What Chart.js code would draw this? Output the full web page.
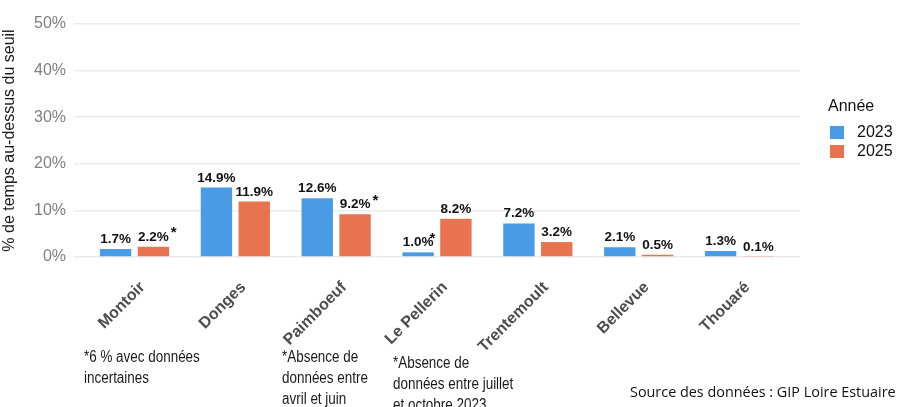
<!DOCTYPE html>
<html lang="fr">
<head>
  <meta charset="UTF-8">
  <title>Temps au-dessus du seuil</title>
  <script src="https://cdn.jsdelivr.net/npm/chart.js"></script>
  <style>
    body {
      margin: 0;
      background: #fff;
    }
    #wrap {
      position: relative;
      width: 905px;
      height: 407px;
      overflow: hidden;
    }
    .note {
      position: absolute;
      font-family: 'Liberation Sans', Arial, sans-serif;
      font-size: 16px;
      line-height: 21px;
      color: #1a1a1a;
      white-space: nowrap;
      transform: scaleX(0.84);
      transform-origin: left top;
    }
    #source {
      position: absolute;
      left: 630px;
      top: 382px;
      font-family: 'Open Sans', sans-serif;
      font-size: 14.4px;
      color: #111;
      white-space: nowrap;
    }
  </style>
</head>
<body>
<div id="wrap">
  <canvas id="chart" width="905" height="407"></canvas>
  <div class="note" style="left:84px; top:346px;">*6 % avec données<br>incertaines</div>
  <div class="note" style="left:282px; top:346px;">*Absence de<br>données entre<br>avril et juin</div>
  <div class="note" style="left:393px; top:352px;">*Absence de<br>données entre juillet<br>et octobre 2023</div>
  <div id="source">Source des données : GIP Loire Estuaire</div>
</div>

<script>
  // data
  const stations = ['Montoir', 'Donges', 'Paimboeuf', 'Le Pellerin', 'Trentemoult', 'Bellevue', 'Thouaré'];
  const years = ['2023', '2025'];
  const values2023 = [1.7, 14.9, 12.6, 1.0, 7.2, 2.1, 1.3];
  const values2025 = [2.2, 11.9, 9.2, 8.2, 3.2, 0.5, 0.1];
  // which bars carry a footnote asterisk
  const star2023 = [false, false, false, true, false, false, false];
  const star2025 = [true, false, true, false, false, false, false];
  const yTicks = [0, 10, 20, 30, 40, 50];

  const colors = ['#4a9be6', '#e8734f'];

  // value labels over each bar, with the asterisks
  const barLabels = {
    id: 'barLabels',
    afterDatasetsDraw(chart) {
      const ctx = chart.ctx;
      const stars = [star2023, star2025];
      ctx.save();
      chart.data.datasets.forEach((ds, di) => {
        const meta = chart.getDatasetMeta(di);
        meta.data.forEach((bar, i) => {
          const txt = ds.data[i].y.toFixed(1) + '%';
          ctx.font = 'bold 13.5px "Liberation Sans", Arial, sans-serif';
          ctx.fillStyle = '#111';
          ctx.textAlign = 'center';
          ctx.textBaseline = 'bottom';
          ctx.fillText(txt, bar.x, bar.y - 3);
          if (stars[di][i]) {
            const w = ctx.measureText(txt).width;
            ctx.font = 'bold 15px "Liberation Sans", Arial, sans-serif';
            ctx.textAlign = 'left';
            const dx = di === 0 ? w / 2 - 4 : w / 2 + 2;
            ctx.fillText('*', bar.x + dx, bar.y - 6);
          }
        });
      });
      ctx.restore();
    }
  };

  // legend on the right, ggplot style
  const sideLegend = {
    id: 'sideLegend',
    afterDraw(chart) {
      const ctx = chart.ctx;
      ctx.save();
      ctx.font = '16px "Liberation Sans", Arial, sans-serif';
      ctx.fillStyle = '#111';
      ctx.textAlign = 'left';
      ctx.textBaseline = 'middle';
      ctx.fillText('Année', 828, 107);
      years.forEach((y, i) => {
        const cy = 132 + i * 19;
        ctx.fillStyle = colors[i];
        ctx.fillRect(830, cy - 6, 14, 13);
        ctx.fillStyle = '#111';
        ctx.fillText(y, 857, cy + 1);
      });
      ctx.restore();
    }
  };

  const datasets = [values2023, values2025].map((vals, k) => ({
    label: years[k],
    data: vals.map((v, i) => ({x: i, y: v})),
    backgroundColor: colors[k],
    borderWidth: 0,
    categoryPercentage: 0.75,
    barPercentage: 0.83
  }));

  new Chart(document.getElementById('chart'), {
    type: 'bar',
    data: {datasets: datasets},
    plugins: [barLabels, sideLegend],
    options: {
      responsive: false,
      animation: false,
      layout: {padding: {top: 24, right: 105, left: 0, bottom: 0}},
      plugins: {
        legend: {display: false},
        tooltip: {enabled: false}
      },
      scales: {
        x: {
          type: 'linear',
          offset: false,
          min: -0.6,
          max: 6.6,
          grid: {display: false, offset: false},
          border: {display: false},
          afterFit(scale) { scale.height = 150; },
          afterBuildTicks(scale) { scale.ticks = stations.map((s, i) => ({value: i})); },
          ticks: {
            autoSkip: false,
            minRotation: 45,
            maxRotation: 45,
            padding: 13,
            labelOffset: 8,
            color: '#4d4d4d',
            font: {family: '"Liberation Sans", Arial, sans-serif', size: 16, weight: 'bold'},
            callback: (v) => stations[v]
          }
        },
        y: {
          min: yTicks[0],
          max: yTicks[yTicks.length - 1],
          afterFit(scale) { scale.width = 74; },
          afterBuildTicks(scale) { scale.ticks = yTicks.map(v => ({value: v})); },
          grid: {color: '#ebebeb', lineWidth: 1.6, drawTicks: false},
          border: {display: false},
          ticks: {
            padding: 8,
            color: '#7f7f7f',
            font: {family: '"Liberation Sans", Arial, sans-serif', size: 16},
            callback: (v) => v + '%'
          },
          title: {
            display: true,
            text: '% de temps au-dessus du seuil',
            color: '#1a1a1a',
            font: {family: '"Liberation Sans", Arial, sans-serif', size: 16},
            padding: {top: 0, bottom: 2}
          }
        }
      }
    }
  });
</script>
</body>
</html>
